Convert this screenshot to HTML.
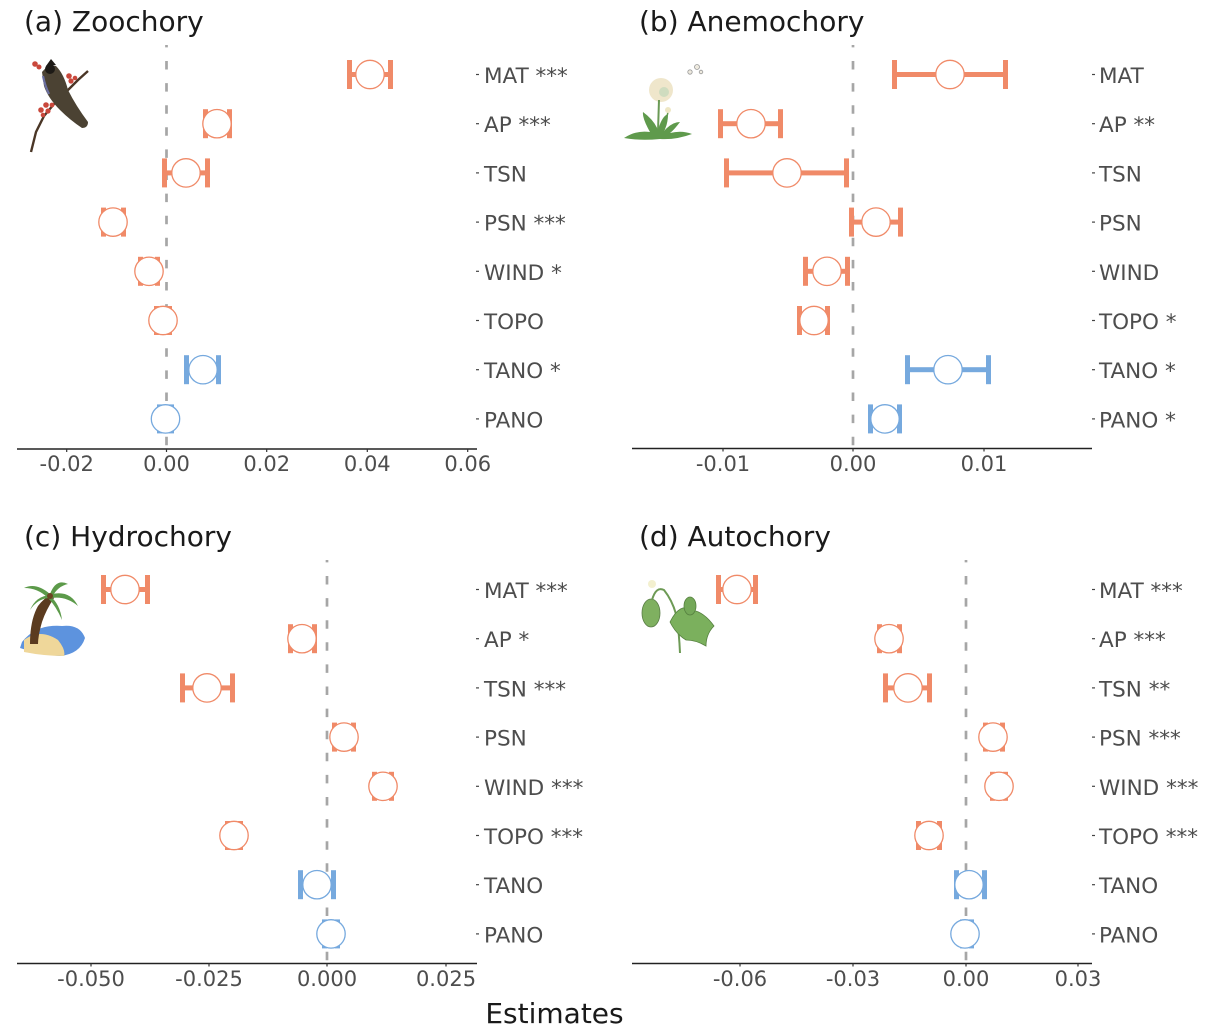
<!DOCTYPE html>
<html><head><meta charset="utf-8"><style>
html,body{margin:0;padding:0;background:#fff;}
svg{display:block;}
text{font-family:"DejaVu Sans","Liberation Sans",sans-serif;}
.tl{font-size:21.5px;fill:#4d4d4d;}
.tk{font-size:21px;fill:#4d4d4d;text-anchor:middle;}
.ti{font-size:28px;fill:#1a1a1a;}
.ax{stroke:#222;stroke-width:1.4;}
.dash{stroke:#a6a6a6;stroke-width:2.7;stroke-dasharray:8.5 13.6;}
</style></head><body>
<svg width="1226" height="1028" viewBox="0 0 1226 1028" xmlns="http://www.w3.org/2000/svg">
<rect width="1226" height="1028" fill="#fff"/>

<!-- Titles -->
<text class="ti" x="24" y="31">(a) Zoochory</text>
<text class="ti" x="639" y="31">(b) Anemochory</text>
<text class="ti" x="24" y="546">(c) Hydrochory</text>
<text class="ti" x="639" y="546">(d) Autochory</text>
<text class="ti" x="554.5" y="1023" text-anchor="middle">Estimates</text>

<!-- Dashed zero lines -->
<line class="dash" x1="166.5" y1="45" x2="166.5" y2="448" stroke-dashoffset="-16"/>
<line class="dash" x1="853" y1="45" x2="853" y2="448" stroke-dashoffset="-16"/>
<line class="dash" x1="327" y1="560" x2="327" y2="963" stroke-dashoffset="-16"/>
<line class="dash" x1="966" y1="560" x2="966" y2="963" stroke-dashoffset="-16"/>

<!-- Axes -->
<g class="ax">
<line x1="17" y1="449" x2="477" y2="449"/>
<line x1="632" y1="448.5" x2="1092" y2="448.5"/>
<line x1="17" y1="963.5" x2="477" y2="963.5"/>
<line x1="632" y1="963.5" x2="1092" y2="963.5"/>
</g>
<g stroke="#333" stroke-width="1.2">
<line x1="66.7" y1="449" x2="66.7" y2="452"/><line x1="166.5" y1="449" x2="166.5" y2="452"/><line x1="266.7" y1="449" x2="266.7" y2="452"/><line x1="367.3" y1="449" x2="367.3" y2="452"/><line x1="467.7" y1="449" x2="467.7" y2="452"/>
<line x1="723" y1="448.5" x2="723" y2="451.5"/><line x1="853" y1="448.5" x2="853" y2="451.5"/><line x1="984" y1="448.5" x2="984" y2="451.5"/>
<line x1="91" y1="963.5" x2="91" y2="966.5"/><line x1="209" y1="963.5" x2="209" y2="966.5"/><line x1="327" y1="963.5" x2="327" y2="966.5"/><line x1="446" y1="963.5" x2="446" y2="966.5"/>
<line x1="740" y1="963.5" x2="740" y2="966.5"/><line x1="853" y1="963.5" x2="853" y2="966.5"/><line x1="966" y1="963.5" x2="966" y2="966.5"/><line x1="1078" y1="963.5" x2="1078" y2="966.5"/>
</g>
<!-- Tick labels -->
<text class="tk" x="66.7" y="471">-0.02</text>
<text class="tk" x="166.5" y="471">0.00</text>
<text class="tk" x="266.7" y="471">0.02</text>
<text class="tk" x="367.3" y="471">0.04</text>
<text class="tk" x="467.7" y="471">0.06</text>
<text class="tk" x="723" y="471">-0.01</text>
<text class="tk" x="853" y="471">0.00</text>
<text class="tk" x="984" y="471">0.01</text>
<text class="tk" x="91" y="986">-0.050</text>
<text class="tk" x="209" y="986">-0.025</text>
<text class="tk" x="327" y="986">0.000</text>
<text class="tk" x="446" y="986">0.025</text>
<text class="tk" x="740" y="986">-0.06</text>
<text class="tk" x="853" y="986">-0.03</text>
<text class="tk" x="966" y="986">0.00</text>
<text class="tk" x="1078" y="986">0.03</text>

<!-- Right labels: ticks -->
<g stroke="#444" stroke-width="1.2">
<line x1="476" y1="74.5" x2="479" y2="74.5"/><line x1="476" y1="123.7" x2="479" y2="123.7"/><line x1="476" y1="172.9" x2="479" y2="172.9"/><line x1="476" y1="222.1" x2="479" y2="222.1"/><line x1="476" y1="271.3" x2="479" y2="271.3"/><line x1="476" y1="320.5" x2="479" y2="320.5"/><line x1="476" y1="369.7" x2="479" y2="369.7"/><line x1="476" y1="418.9" x2="479" y2="418.9"/>
<line x1="1092" y1="74.5" x2="1095" y2="74.5"/><line x1="1092" y1="123.7" x2="1095" y2="123.7"/><line x1="1092" y1="172.9" x2="1095" y2="172.9"/><line x1="1092" y1="222.1" x2="1095" y2="222.1"/><line x1="1092" y1="271.3" x2="1095" y2="271.3"/><line x1="1092" y1="320.5" x2="1095" y2="320.5"/><line x1="1092" y1="369.7" x2="1095" y2="369.7"/><line x1="1092" y1="418.9" x2="1095" y2="418.9"/>
<line x1="476" y1="589.5" x2="479" y2="589.5"/><line x1="476" y1="638.7" x2="479" y2="638.7"/><line x1="476" y1="687.9" x2="479" y2="687.9"/><line x1="476" y1="737.1" x2="479" y2="737.1"/><line x1="476" y1="786.3" x2="479" y2="786.3"/><line x1="476" y1="835.5" x2="479" y2="835.5"/><line x1="476" y1="884.7" x2="479" y2="884.7"/><line x1="476" y1="933.9" x2="479" y2="933.9"/>
<line x1="1092" y1="589.5" x2="1095" y2="589.5"/><line x1="1092" y1="638.7" x2="1095" y2="638.7"/><line x1="1092" y1="687.9" x2="1095" y2="687.9"/><line x1="1092" y1="737.1" x2="1095" y2="737.1"/><line x1="1092" y1="786.3" x2="1095" y2="786.3"/><line x1="1092" y1="835.5" x2="1095" y2="835.5"/><line x1="1092" y1="884.7" x2="1095" y2="884.7"/><line x1="1092" y1="933.9" x2="1095" y2="933.9"/>
</g>
<!-- Right labels: text -->
<text class="tl" x="484" y="83">MAT ***</text>
<text class="tl" x="484" y="132.2">AP ***</text>
<text class="tl" x="484" y="181.4">TSN</text>
<text class="tl" x="484" y="230.6">PSN ***</text>
<text class="tl" x="484" y="279.8">WIND *</text>
<text class="tl" x="484" y="329">TOPO</text>
<text class="tl" x="484" y="378.2">TANO *</text>
<text class="tl" x="484" y="427.4">PANO</text>

<text class="tl" x="1099" y="83">MAT</text>
<text class="tl" x="1099" y="132.2">AP **</text>
<text class="tl" x="1099" y="181.4">TSN</text>
<text class="tl" x="1099" y="230.6">PSN</text>
<text class="tl" x="1099" y="279.8">WIND</text>
<text class="tl" x="1099" y="329">TOPO *</text>
<text class="tl" x="1099" y="378.2">TANO *</text>
<text class="tl" x="1099" y="427.4">PANO *</text>

<text class="tl" x="484" y="598">MAT ***</text>
<text class="tl" x="484" y="647.2">AP *</text>
<text class="tl" x="484" y="696.4">TSN ***</text>
<text class="tl" x="484" y="745.6">PSN</text>
<text class="tl" x="484" y="794.8">WIND ***</text>
<text class="tl" x="484" y="844">TOPO ***</text>
<text class="tl" x="484" y="893.2">TANO</text>
<text class="tl" x="484" y="942.4">PANO</text>

<text class="tl" x="1099" y="598">MAT ***</text>
<text class="tl" x="1099" y="647.2">AP ***</text>
<text class="tl" x="1099" y="696.4">TSN **</text>
<text class="tl" x="1099" y="745.6">PSN ***</text>
<text class="tl" x="1099" y="794.8">WIND ***</text>
<text class="tl" x="1099" y="844">TOPO ***</text>
<text class="tl" x="1099" y="893.2">TANO</text>
<text class="tl" x="1099" y="942.4">PANO</text>

<!-- Error bars + points -->
<g id="pts">
<!-- Panel a -->
<g fill="#F08A68">
<rect x="347" y="72" width="46" height="5"/><rect x="347" y="60" width="5" height="29"/><rect x="388" y="60" width="5" height="29"/>
<rect x="203" y="121.2" width="29" height="5"/><rect x="203" y="109.2" width="5" height="29"/><rect x="227" y="109.2" width="5" height="29"/>
<rect x="162" y="170.4" width="48" height="5"/><rect x="162" y="158.4" width="5" height="29"/><rect x="205" y="158.4" width="5" height="29"/>
<rect x="101" y="219.6" width="25" height="5"/><rect x="101" y="207.6" width="5" height="29"/><rect x="121" y="207.6" width="5" height="29"/>
<rect x="138" y="268.8" width="22" height="5"/><rect x="138" y="256.8" width="5" height="29"/><rect x="155" y="256.8" width="5" height="29"/>
<rect x="154" y="318" width="18" height="5"/><rect x="154" y="306" width="5" height="29"/><rect x="167" y="306" width="5" height="29"/>
</g>
<g fill="#76A9DE">
<rect x="184" y="367.2" width="37" height="5"/><rect x="184" y="355.2" width="5" height="29"/><rect x="216" y="355.2" width="5" height="29"/>
<rect x="157" y="416.4" width="17" height="5"/><rect x="157" y="404.4" width="5" height="29"/><rect x="169" y="404.4" width="5" height="29"/>
</g>
<g fill="#fff" stroke="#F08A68" stroke-width="1.3">
<circle cx="370" cy="74.5" r="14.2"/><circle cx="217" cy="123.7" r="14.2"/><circle cx="186" cy="172.9" r="14.2"/><circle cx="113" cy="222.1" r="14.2"/><circle cx="149" cy="271.3" r="14.2"/><circle cx="163" cy="320.5" r="14.2"/>
</g>
<g fill="#fff" stroke="#76A9DE" stroke-width="1.3">
<circle cx="203" cy="369.7" r="14.2"/><circle cx="165.5" cy="418.9" r="14.2"/>
</g>

<!-- Panel b -->
<g fill="#F08A68">
<rect x="892" y="72" width="116" height="5"/><rect x="892" y="60" width="5" height="29"/><rect x="1003" y="60" width="5" height="29"/>
<rect x="718" y="121.2" width="65" height="5"/><rect x="718" y="109.2" width="5" height="29"/><rect x="778" y="109.2" width="5" height="29"/>
<rect x="724" y="170.4" width="125" height="5"/><rect x="724" y="158.4" width="5" height="29"/><rect x="844" y="158.4" width="5" height="29"/>
<rect x="849" y="219.6" width="54" height="5"/><rect x="849" y="207.6" width="5" height="29"/><rect x="898" y="207.6" width="5" height="29"/>
<rect x="803" y="268.8" width="47" height="5"/><rect x="803" y="256.8" width="5" height="29"/><rect x="845" y="256.8" width="5" height="29"/>
<rect x="797" y="318" width="33" height="5"/><rect x="797" y="306" width="5" height="29"/><rect x="825" y="306" width="5" height="29"/>
</g>
<g fill="#76A9DE">
<rect x="905" y="367.2" width="86" height="5"/><rect x="905" y="355.2" width="5" height="29"/><rect x="986" y="355.2" width="5" height="29"/>
<rect x="868" y="416.4" width="34" height="5"/><rect x="868" y="404.4" width="5" height="29"/><rect x="897" y="404.4" width="5" height="29"/>
</g>
<g fill="#fff" stroke="#F08A68" stroke-width="1.3">
<circle cx="950" cy="74.5" r="14.2"/><circle cx="751" cy="123.7" r="14.2"/><circle cx="787" cy="172.9" r="14.2"/><circle cx="876" cy="222.1" r="14.2"/><circle cx="827" cy="271.3" r="14.2"/><circle cx="814" cy="320.5" r="14.2"/>
</g>
<g fill="#fff" stroke="#76A9DE" stroke-width="1.3">
<circle cx="948" cy="369.7" r="14.2"/><circle cx="885" cy="418.9" r="14.2"/>
</g>

<!-- Panel c -->
<g fill="#F08A68">
<rect x="101" y="587" width="49" height="5"/><rect x="101" y="575" width="5" height="29"/><rect x="145" y="575" width="5" height="29"/>
<rect x="288" y="636.2" width="29" height="5"/><rect x="288" y="624.2" width="5" height="29"/><rect x="312" y="624.2" width="5" height="29"/>
<rect x="180" y="685.4" width="55" height="5"/><rect x="180" y="673.4" width="5" height="29"/><rect x="230" y="673.4" width="5" height="29"/>
<rect x="332" y="734.6" width="24" height="5"/><rect x="332" y="722.6" width="5" height="29"/><rect x="351" y="722.6" width="5" height="29"/>
<rect x="372" y="783.8" width="22" height="5"/><rect x="372" y="771.8" width="5" height="29"/><rect x="389" y="771.8" width="5" height="29"/>
<rect x="225" y="833" width="18" height="5"/><rect x="225" y="821" width="5" height="29"/><rect x="238" y="821" width="5" height="29"/>
</g>
<g fill="#76A9DE">
<rect x="298" y="882.2" width="38" height="5"/><rect x="298" y="870.2" width="5" height="29"/><rect x="331" y="870.2" width="5" height="29"/>
<rect x="322" y="931.4" width="18" height="5"/><rect x="322" y="919.4" width="5" height="29"/><rect x="335" y="919.4" width="5" height="29"/>
</g>
<g fill="#fff" stroke="#F08A68" stroke-width="1.3">
<circle cx="125" cy="589.5" r="14.2"/><circle cx="302" cy="638.7" r="14.2"/><circle cx="207" cy="687.9" r="14.2"/><circle cx="344" cy="737.1" r="14.2"/><circle cx="383" cy="786.3" r="14.2"/><circle cx="234" cy="835.5" r="14.2"/>
</g>
<g fill="#fff" stroke="#76A9DE" stroke-width="1.3">
<circle cx="317" cy="884.7" r="14.2"/><circle cx="331" cy="933.9" r="14.2"/>
</g>

<!-- Panel d -->
<g fill="#F08A68">
<rect x="716" y="587" width="42" height="5"/><rect x="716" y="575" width="5" height="29"/><rect x="753" y="575" width="5" height="29"/>
<rect x="877" y="636.2" width="25" height="5"/><rect x="877" y="624.2" width="5" height="29"/><rect x="897" y="624.2" width="5" height="29"/>
<rect x="883" y="685.4" width="49" height="5"/><rect x="883" y="673.4" width="5" height="29"/><rect x="927" y="673.4" width="5" height="29"/>
<rect x="983" y="734.6" width="22" height="5"/><rect x="983" y="722.6" width="5" height="29"/><rect x="1000" y="722.6" width="5" height="29"/>
<rect x="990" y="783.8" width="18" height="5"/><rect x="990" y="771.8" width="5" height="29"/><rect x="1003" y="771.8" width="5" height="29"/>
<rect x="916" y="833" width="26" height="5"/><rect x="916" y="821" width="5" height="29"/><rect x="937" y="821" width="5" height="29"/>
</g>
<g fill="#76A9DE">
<rect x="954" y="882.2" width="33" height="5"/><rect x="954" y="870.2" width="5" height="29"/><rect x="982" y="870.2" width="5" height="29"/>
<rect x="960" y="931.4" width="14" height="5"/><rect x="960" y="919.4" width="5" height="29"/><rect x="969" y="919.4" width="5" height="29"/>
</g>
<g fill="#fff" stroke="#F08A68" stroke-width="1.3">
<circle cx="737" cy="589.5" r="14.2"/><circle cx="889" cy="638.7" r="14.2"/><circle cx="908" cy="687.9" r="14.2"/><circle cx="993" cy="737.1" r="14.2"/><circle cx="999" cy="786.3" r="14.2"/><circle cx="929" cy="835.5" r="14.2"/>
</g>
<g fill="#fff" stroke="#76A9DE" stroke-width="1.3">
<circle cx="969" cy="884.7" r="14.2"/><circle cx="965" cy="933.9" r="14.2"/>
</g>
</g>

<!-- Illustrations -->
<!-- bird -->
<g>
<path d="M31,152 L36,132 L44,116 L54,104 L66,92 L78,80 L88,71" stroke="#4a3626" stroke-width="2.4" fill="none"/>
<path d="M42,72 Q48,64 56,66 Q64,74 68,90 Q76,106 88,122 Q88,128 82,128 Q70,120 60,110 Q48,98 44,86 Z" fill="#4b4233"/>
<path d="M46,66 L51,59 L56,65 Z" fill="#1d1a16"/>
<circle cx="50" cy="69" r="5" fill="#1d1a16"/>
<path d="M43,76 Q45,86 49,94" stroke="#6a6fa0" stroke-width="2.2" fill="none"/>
<g fill="#c9483c">
<circle cx="35" cy="64" r="2.8"/><circle cx="39" cy="67" r="2.5"/>
<circle cx="69" cy="76" r="2.8"/><circle cx="71" cy="81" r="2.6"/><circle cx="75" cy="78" r="2.3"/>
<circle cx="41" cy="110" r="2.8"/><circle cx="46" cy="105" r="2.8"/><circle cx="48" cy="111" r="2.6"/><circle cx="52" cy="105" r="2.4"/><circle cx="43" cy="115" r="2.3"/>
</g>
</g>
<!-- dandelion -->
<g>
<circle cx="661" cy="90" r="12" fill="#efe6cb"/>
<circle cx="664" cy="92" r="5" fill="#cfdcbf"/>
<path d="M659,100 L658,132" stroke="#6a9a55" stroke-width="2" fill="none"/>
<path d="M668,112 L664,130" stroke="#6a9a55" stroke-width="1.5" fill="none"/>
<circle cx="668" cy="110" r="3" fill="#eee7c5"/>
<path d="M624,138 Q636,130 650,132 Q642,118 643,112 Q654,120 658,130 Q662,116 668,114 Q668,124 664,131 Q672,122 680,122 Q674,130 670,133 Q682,130 692,134 Q676,140 660,139 Q640,141 624,138 Z" fill="#5f9a4c"/>
<g stroke="#999" stroke-width="0.8" fill="#eeeadf">
<circle cx="697" cy="67" r="2.5"/><circle cx="690" cy="72" r="2.2"/><circle cx="701" cy="72" r="1.8"/>
</g>
</g>
<!-- palm -->
<g>
<path d="M22,642 Q36,624 62,626 Q80,624 85,638 Q80,654 60,656 Q40,655 20,648 Z" fill="#5d93de"/>
<path d="M24,640 Q40,628 58,640 Q66,650 64,656 Q44,656 24,652 Z" fill="#efd79a"/>
<path d="M30,644 Q30,620 38,606 Q44,598 52,594 L54,598 Q46,610 42,622 Q38,636 38,644 Z" fill="#5b3b1f"/>
<g fill="#5c9a4a">
<path d="M50,594 Q36,582 24,588 Q38,588 48,598 Z"/>
<path d="M50,594 Q56,578 68,584 Q58,586 52,597 Z"/>
<path d="M52,594 Q70,590 78,606 Q66,596 52,598 Z"/>
<path d="M50,596 Q60,604 62,620 Q56,606 48,598 Z"/>
<path d="M50,595 Q36,596 30,610 Q38,598 50,598 Z"/>
</g>
<circle cx="50" cy="596" r="3" fill="#6b4422"/>
</g>
<!-- autochory plant -->
<g>
<ellipse cx="651" cy="613" rx="9" ry="14" fill="#7fb060" stroke="#5a7e47" stroke-width="0.8"/>
<path d="M652,600 Q656,586 664,590 Q672,600 676,614 Q679,630 680,653" stroke="#6d9a55" stroke-width="2" fill="none"/>
<path d="M670,622 Q680,602 692,610 Q704,612 714,626 Q706,634 706,646 Q696,640 686,640 Q676,634 670,622 Z" fill="#7bb05d" stroke="#55803f" stroke-width="0.8"/>
<ellipse cx="690" cy="606" rx="6" ry="9" fill="#74a858" stroke="#55803f" stroke-width="0.8"/>
<circle cx="652" cy="584" r="4" fill="#f3f0cf"/>
</g>
</svg>
</body></html>
